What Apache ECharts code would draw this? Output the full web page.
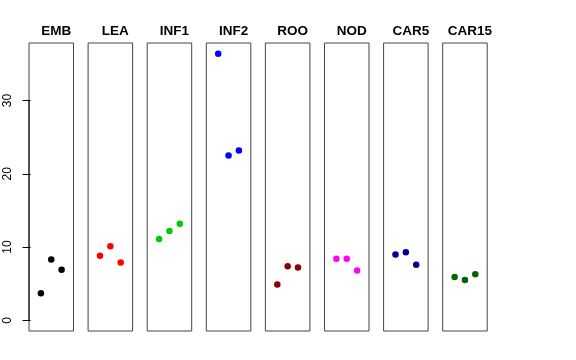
<!DOCTYPE html>
<html><head><meta charset="utf-8">
<script src="https://cdn.jsdelivr.net/npm/echarts@6/dist/echarts.min.js"></script>
<style>html,body{margin:0;padding:0;background:#fff}#c{width:576px;height:360px}</style>
</head><body><div id="c"></div>
<script>
var panels = ["EMB","LEA","INF1","INF2","ROO","NOD","CAR5","CAR15"];
var colors = ["#000000","#FF0000","#00CD00","#0000FF","#8B0000","#FF00FF","#00008B","#006400"];
var xpos = [1,2,3];
var EMB = [3.7,8.3,6.9];
var LEA = [8.8,10.1,7.9];
var INF1 = [11.1,12.2,13.2];
var INF2 = [36.4,22.5,23.2];
var ROO = [4.9,7.4,7.2];
var NOD = [8.4,8.4,6.8];
var CAR5 = [9.0,9.3,7.6];
var CAR15 = [5.9,5.5,6.3];
var values = [EMB,LEA,INF1,INF2,ROO,NOD,CAR5,CAR15];
var yTicks = [0,10,20,30];

(function(){
var yMin = -1.456, yMax = 37.86, xMin = -0.15, xMax = 4.15;
var left0 = 29, step = 59.1, w = 44.5, gTop = 43, gH = 288;
var font = "Liberation Sans, Arial, Helvetica, sans-serif";
var grids=[], xAxes=[], yAxes=[], series=[], titles=[];
panels.forEach(function(p,i){
  var l = left0 + i*step;
  grids.push({left:l, top:gTop, width:w, height:gH, show:true, borderColor:'#444', borderWidth:1, backgroundColor:'transparent'});
  xAxes.push({gridIndex:i, type:'value', min:xMin, max:xMax, show:false});
  yAxes.push({gridIndex:i, type:'value', min:yMin, max:yMax, show:i===0,
    splitLine:{show:false},
    axisLine:{show:false},
    axisTick:{show:true, length:8, inside:false, customValues:yTicks, lineStyle:{color:'#000'}},
    axisLabel:{show:true, customValues:yTicks, rotate:90, margin:15, fontSize:12, color:'#000', fontFamily:font}
  });
  series.push({type:'scatter', xAxisIndex:i, yAxisIndex:i, symbolSize:6.5,
    itemStyle:{color:colors[i], opacity:1},
    data: xpos.map(function(x,k){return [x, values[i][k]];}), silent:true});
  titles.push({text:p, left:l + w/2, top:19, textAlign:'center',
    textStyle:{fontSize:13.5, fontWeight:'bold', color:'#000', fontFamily:font}});
});
// y axis line spanning first to last tick (as in R's axis())
series.push({type:'line', xAxisIndex:0, yAxisIndex:0, symbol:'none', silent:true,
  lineStyle:{color:'#000', width:1},
  data:[[xMin, yTicks[0]],[xMin, yTicks[yTicks.length-1]]]});
var chart = echarts.init(document.getElementById('c'), null, {renderer:'canvas'});
chart.setOption({animation:false, title:titles, grid:grids, xAxis:xAxes, yAxis:yAxes, series:series});
})();
</script></body></html>
